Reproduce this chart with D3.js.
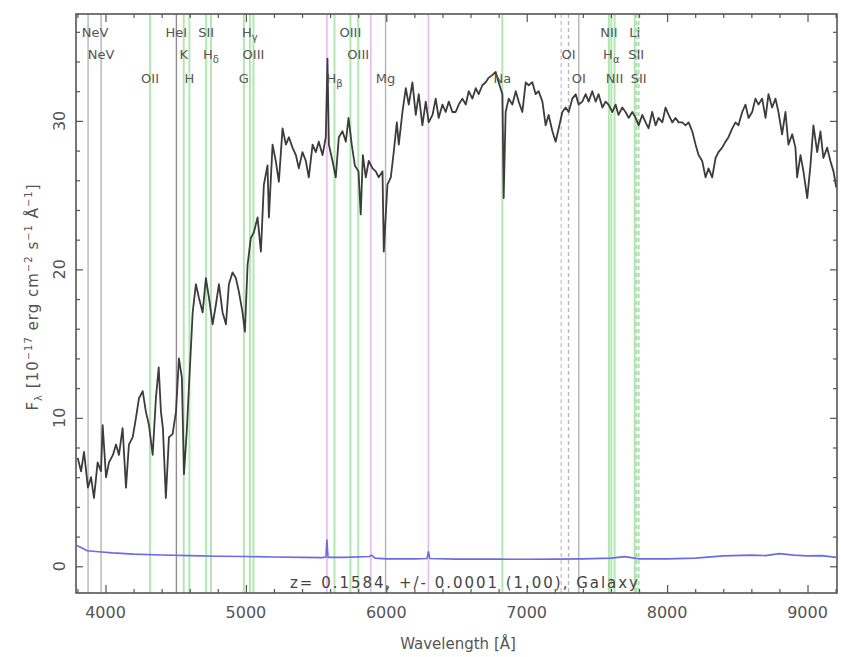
<!DOCTYPE html>
<html>
<head>
<meta charset="utf-8">
<script src="https://cdn.jsdelivr.net/npm/d3@7"></script>
<style>
  html, body { margin: 0; padding: 0; background: #fff; }
  svg { display: block; font-family: "DejaVu Sans", Verdana, sans-serif; }
</style>
</head>
<body>
<svg id="chart" width="841" height="657"></svg>
<script>
// Redshift of the object
const redshift = 0.1584;

// Observed spectrum: wavelength [Å] and flux [1e-17 erg/cm^2/s/Å]
const specWave = [
  3802,3826,3847,3875,3897,3918,3944,3968,3980,4004,4025,4053,4075,4096,4122,4146,4167,4194,4217,4238,
  4265,4288,4310,4336,4359,4379,4395,4409,4430,4452,4478,4502,4523,4544,4559,4580,4594,4621,4644,4665,
  4692,4715,4737,4763,4786,4808,4834,4858,4879,4905,4929,4950,4976,4993,5012,5035,5057,5083,5107,5128,5154,
  5164,5190,5213,5235,5261,5285,5306,5332,5356,5377,5403,5427,5448,5475,5498,5519,5546,5569,5581,5591,
  5617,5640,5662,5688,5712,5731,5754,5776,5802,5818,5833,5854,5875,5902,5925,5946,5973,5982,6008,6032,
  6053,6075,6089,6115,6139,6160,6186,6210,6231,6257,6281,6302,6329,6352,6373,6400,6423,6445,6471,
  6494,6516,6542,6566,6587,6613,6637,6658,6684,6708,6729,6756,6779,6800,6827,6836,6850,6872,6898,6922,
  6943,6969,6993,7014,7040,7064,7085,7112,7135,7156,7183,7206,7228,7254,7277,7299,7325,7349,7370,7396,
  7420,7441,7467,7491,7512,7539,7562,7583,7610,7633,7654,7681,7704,7726,7752,7776,7797,7823,7847,
  7868,7894,7918,7939,7966,7989,8011,8037,8060,8082,8108,8131,8153,8179,8203,8224,8250,8274,8295,8321,
  8345,8366,8392,8416,8437,8464,8487,8508,8535,8558,8580,8606,8629,8651,8677,8701,8722,8748,8772,8793,
  8819,8843,8864,8891,8914,8926,8950,8971,8998,9021,9042,9069,9092,9113,9140,9163,9185,9205
];
const specFlux = [
  7.3,6.4,7.7,5.3,6.0,4.6,7.0,6.4,9.5,6.0,7.0,7.5,8.2,7.5,9.3,5.3,8.2,8.7,10.0,11.3,
  11.8,10.4,9.5,7.5,11.3,13.4,10.4,9.3,4.6,8.7,8.9,10.4,14.0,12.7,6.2,9.3,12.0,17.1,19.0,18.1,
  17.1,19.4,18.1,16.3,17.6,19.0,17.1,16.3,19.0,19.8,19.4,18.5,17.1,15.8,20.3,22.1,22.5,23.5,21.2,25.7,27.0,
  23.5,28.4,27.3,25.9,29.5,28.4,28.9,28.2,27.7,26.8,27.9,27.3,26.2,28.4,27.9,28.6,27.7,28.9,34.2,28.4,
  27.3,26.2,28.9,29.3,28.6,30.2,28.4,27.0,26.6,23.7,27.7,26.2,27.3,26.8,26.6,26.2,26.6,21.2,25.7,26.2,
  27.9,29.9,28.4,30.6,32.2,31.1,32.6,30.4,31.8,29.7,31.3,29.9,30.4,31.5,30.2,31.1,30.6,31.3,30.6,
  30.6,31.1,31.5,31.1,32.0,31.5,32.2,31.8,32.4,32.6,32.9,33.1,33.3,32.6,31.8,24.8,30.6,31.5,31.1,32.0,
  31.3,30.6,32.6,32.4,32.6,31.8,32.0,31.3,29.7,30.4,29.3,28.6,29.5,30.6,30.9,30.6,31.5,31.8,31.1,31.3,
  31.8,31.3,32.0,31.3,31.8,30.9,31.3,31.1,30.6,31.1,30.4,30.9,30.6,30.2,30.6,30.2,29.7,30.4,29.9,
  29.5,30.6,29.7,30.2,29.9,30.9,30.4,29.9,30.2,29.9,29.9,29.7,29.9,29.3,28.4,27.7,27.3,26.2,26.8,26.2,
  27.5,27.9,28.2,28.6,28.9,29.5,29.9,29.7,30.6,31.1,30.2,30.6,31.5,31.1,31.5,30.2,31.8,30.9,31.5,30.6,
  29.1,30.6,28.4,29.1,28.2,26.2,27.7,26.6,24.8,27.0,29.7,27.9,29.3,27.5,28.2,27.3,26.6,25.5
];

// Flux error spectrum
const errWave = [3795,3830,3870,3950,4050,4200,4400,4600,4800,5000,5200,5400,5540,5570,5577,5585,5700,5880,5895,5920,
                 6000,6200,6290,6300,6310,6500,6800,7000,7200,7400,7600,7700,7800,8000,8200,8400,8600,8700,8800,8900,9000,9100,9205];
const errFlux = [1.40,1.25,1.05,0.98,0.90,0.82,0.76,0.72,0.68,0.66,0.62,0.60,0.58,0.62,1.80,0.60,0.60,0.66,0.75,0.55,
                 0.50,0.50,0.52,1.00,0.52,0.48,0.48,0.47,0.48,0.50,0.55,0.65,0.50,0.50,0.55,0.70,0.75,0.72,0.85,0.75,0.70,0.72,0.60];

// Spectral line list (rest frame), labels, label row and line style
const lineRest  = [3346, 3426, 3727, 3889, 3934, 3969, 4072, 4102, 4304, 4341, 4363, 4861, 4959, 5007, 5175, 5893, 6300, 6363, 6548, 6563, 6583, 6707, 6716, 6731];
const lineName  = ["NeV","NeV","OII","HeI","K","H","SII","H","G","H","OIII","H","OIII","OIII","Mg","Na","OI","OI","NII","H","NII","Li","SII","SII"];
const lineSub   = ["","","","","","","","δ","","γ","","β","","","","","","","","α","","","",""];
const lineRow   = [1,2,3,1,2,3,1,2,3,1,2,3,1,2,3,3,2,3,1,2,3,1,2,3];
const lineKind  = ["gray","gray","green","grayDark","green","green","green","green","green","green","green","green","green","green","gray","green","grayDash","gray","green","green","green","green","greenDash","greenDash"];

// Night-sky lines (observed frame)
const skyWave = [5577, 5890, 6300, 7246];
const skyKind = ["sky","sky","sky","skyDash"];

// Axis ticks
const xMajor = [4000, 5000, 6000, 7000, 8000, 9000];
const yMajor = [0, 10, 20, 30];

const svg = d3.select("#chart");
const M = { left: 76, right: 837, top: 14, bottom: 593 };

const x = d3.scaleLinear().domain([3790, 9210]).range([M.left, M.right]);
const y = d3.scaleLinear().domain([-1.8, 37.2]).range([M.bottom, M.top]);

const styles = {
  green:     { stroke: "#b4e6b4", width: 2,   dash: null },
  greenDash: { stroke: "#a8e0a8", width: 2,   dash: "4,3" },
  gray:      { stroke: "#b4b4b4", width: 1.4, dash: null },
  grayDark:  { stroke: "#8e8e8e", width: 1.4, dash: null },
  grayDash:  { stroke: "#b8b8b8", width: 1.4, dash: "4,3" },
  sky:       { stroke: "#e4bcea", width: 1.6, dash: null },
  skyDash:   { stroke: "#e4bcea", width: 1.6, dash: "4,3" }
};

const plot = svg.append("g");
plot.append("defs").append("clipPath").attr("id", "clip")
  .append("rect").attr("x", M.left).attr("y", M.top)
  .attr("width", M.right - M.left).attr("height", M.bottom - M.top);

// Marker lines
const markers = lineRest.map((w, i) => ({ w: w * (1 + redshift), kind: lineKind[i] }))
  .concat(skyWave.map((w, i) => ({ w, kind: skyKind[i] })));

plot.append("g").selectAll("line").data(markers).join("line")
  .attr("x1", d => x(d.w)).attr("x2", d => x(d.w))
  .attr("y1", M.top).attr("y2", M.bottom)
  .attr("stroke", d => styles[d.kind].stroke)
  .attr("stroke-width", d => styles[d.kind].width)
  .attr("stroke-dasharray", d => styles[d.kind].dash);

// Error spectrum
const errData = errWave.map((w, i) => [w, errFlux[i]]);
plot.append("path").datum(errData)
  .attr("clip-path", "url(#clip)")
  .attr("fill", "none").attr("stroke", "#6b6be6").attr("stroke-width", 1.6)
  .attr("d", d3.line().x(d => x(d[0])).y(d => y(d[1])));

// Spectrum
const specData = specWave.map((w, i) => [w, specFlux[i]]);
plot.append("path").datum(specData)
  .attr("clip-path", "url(#clip)")
  .attr("fill", "none").attr("stroke", "#3c3c3c").attr("stroke-width", 1.8)
  .attr("stroke-linejoin", "round")
  .attr("d", d3.line().x(d => x(d[0])).y(d => y(d[1])));

// Axes with inward ticks on all four sides
const xMinor = d3.range(3800, 9201, 200).filter(v => !xMajor.includes(v));
const yMinor = d3.range(0, 37, 2).filter(v => !yMajor.includes(v));

function styleAxis(g) {
  g.select(".domain").remove();
  g.selectAll("line").attr("stroke", "#555").attr("stroke-width", 1.2);
  g.selectAll("text").remove();
}
svg.append("g").attr("transform", `translate(0,${M.bottom})`)
  .call(d3.axisBottom(x).tickValues(xMajor).tickSize(-8)).call(styleAxis);
svg.append("g").attr("transform", `translate(0,${M.bottom})`)
  .call(d3.axisBottom(x).tickValues(xMinor).tickSize(-4)).call(styleAxis);
svg.append("g").attr("transform", `translate(0,${M.top})`)
  .call(d3.axisTop(x).tickValues(xMajor).tickSize(-8)).call(styleAxis);
svg.append("g").attr("transform", `translate(0,${M.top})`)
  .call(d3.axisTop(x).tickValues(xMinor).tickSize(-4)).call(styleAxis);
svg.append("g").attr("transform", `translate(${M.left},0)`)
  .call(d3.axisLeft(y).tickValues(yMajor).tickSize(-7)).call(styleAxis);
svg.append("g").attr("transform", `translate(${M.left},0)`)
  .call(d3.axisLeft(y).tickValues(yMinor).tickSize(-4)).call(styleAxis);
svg.append("g").attr("transform", `translate(${M.right},0)`)
  .call(d3.axisRight(y).tickValues(yMajor).tickSize(-7)).call(styleAxis);
svg.append("g").attr("transform", `translate(${M.right},0)`)
  .call(d3.axisRight(y).tickValues(yMinor).tickSize(-4)).call(styleAxis);

// Frame
svg.append("rect")
  .attr("x", M.left).attr("y", M.top)
  .attr("width", M.right - M.left).attr("height", M.bottom - M.top)
  .attr("fill", "none").attr("stroke", "#555").attr("stroke-width", 1.6);

// Tick labels
svg.append("g").selectAll("text").data(xMajor).join("text")
  .attr("x", d => x(d)).attr("y", 618)
  .attr("text-anchor", "middle").attr("font-size", 16).attr("fill", "#555")
  .text(d => d);
svg.append("g").selectAll("text").data(yMajor).join("text")
  .attr("transform", d => `translate(65,${y(d)}) rotate(-90)`)
  .attr("text-anchor", "middle").attr("font-size", 16).attr("fill", "#555")
  .text(d => d);

// Axis titles
svg.append("text")
  .attr("x", 458).attr("y", 649).attr("text-anchor", "middle")
  .attr("font-size", 15).attr("fill", "#555")
  .text("Wavelength [Å]");

const yt = svg.append("text")
  .attr("transform", "translate(38,297) rotate(-90)")
  .attr("text-anchor", "middle").attr("font-size", 15).attr("fill", "#555")
  .attr("letter-spacing", 1);
yt.append("tspan").text("F");
yt.append("tspan").attr("font-size", 10).attr("dy", 4).text("λ");
yt.append("tspan").attr("dy", -4).text(" [10");
yt.append("tspan").attr("font-size", 10).attr("dy", -6).text("−17");
yt.append("tspan").attr("dy", 6).text(" erg cm");
yt.append("tspan").attr("font-size", 10).attr("dy", -6).text("−2");
yt.append("tspan").attr("dy", 6).text(" s");
yt.append("tspan").attr("font-size", 10).attr("dy", -6).text("−1");
yt.append("tspan").attr("dy", 6).text(" Å");
yt.append("tspan").attr("font-size", 10).attr("dy", -6).text("−1");
yt.append("tspan").attr("dy", 6).text("]");

// Redshift annotation
svg.append("text")
  .attr("x", 290).attr("y", 588)
  .attr("font-size", 15).attr("fill", "#444")
  .attr("textLength", 348).attr("lengthAdjust", "spacing")
  .text(`z= ${redshift.toFixed(4)}, +/- 0.0001 (1.00), Galaxy`);

// Line labels in three staggered rows
const rowBase = { 1: 37, 2: 59, 3: 83 };
const labels = svg.append("g").attr("font-size", 13).attr("fill", "#555");
lineRest.forEach((w, i) => {
  const cx = Math.max(x(w * (1 + redshift)), M.left + 19);
  const t = labels.append("text")
    .attr("x", cx).attr("y", rowBase[lineRow[i]])
    .attr("text-anchor", "middle");
  t.append("tspan").text(lineName[i]);
  if (lineSub[i]) t.append("tspan").attr("font-size", 10).attr("dy", 4).text(lineSub[i]);
});
</script>
</body>
</html>
